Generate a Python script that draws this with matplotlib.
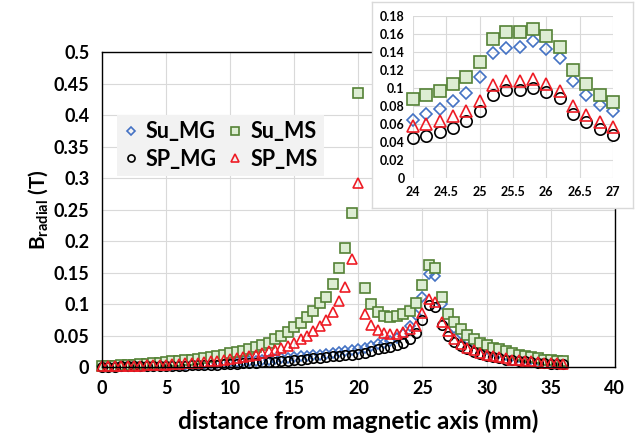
import numpy as np
import matplotlib
matplotlib.use("Agg")
import matplotlib.pyplot as plt
from matplotlib.ticker import FuncFormatter

plt.rcParams['font.family'] = ['Lato', 'DejaVu Sans']
plt.rcParams['font.weight'] = 'bold'
plt.rcParams['mathtext.fontset'] = 'custom'
plt.rcParams['mathtext.rm'] = 'Lato:bold'
plt.rcParams['mathtext.bf'] = 'Lato:bold'
plt.rcParams['mathtext.it'] = 'Lato:bold'

""" data """
# main plot: 0 .. 36 mm, 0.5 mm step
x_main = np.arange(0, 36.01, 0.5)

su_mg = [0.001, 0.001, 0.001, 0.0015, 0.0015, 0.002, 0.002, 0.0025, 0.0025, 0.003,
         0.003, 0.0035, 0.004, 0.004, 0.0045, 0.005, 0.0055, 0.006, 0.0065, 0.007,
         0.0075, 0.008, 0.009, 0.0095, 0.010, 0.011, 0.012, 0.013, 0.014, 0.015,
         0.016, 0.017, 0.018, 0.019, 0.020, 0.021, 0.022, 0.024, 0.025, 0.027,
         0.029, 0.031, 0.033, 0.036, 0.039, 0.042, 0.046, 0.053, 0.065, 0.082,
         0.112, 0.147, 0.144, 0.100, 0.074, 0.062, 0.052, 0.044, 0.038, 0.033,
         0.029, 0.026, 0.023, 0.020, 0.018, 0.016, 0.014, 0.013, 0.012, 0.011,
         0.010, 0.009, 0.008]

su_ms = [0.0015, 0.002, 0.0025, 0.003, 0.0035, 0.004, 0.005, 0.0055, 0.006, 0.007,
         0.008, 0.009, 0.010, 0.011, 0.012, 0.013, 0.015, 0.016, 0.018, 0.020,
         0.022, 0.024, 0.026, 0.029, 0.032, 0.035, 0.039, 0.044, 0.049, 0.055,
         0.063, 0.070, 0.079, 0.089, 0.101, 0.112, 0.132, 0.157, 0.189, 0.244,
         0.435, 0.126, 0.100, 0.088, 0.081, 0.079, 0.081, 0.084, 0.089, 0.101,
         0.130, 0.162, 0.158, 0.112, 0.085, 0.072, 0.060, 0.051, 0.044, 0.039,
         0.035, 0.031, 0.028, 0.025, 0.022, 0.020, 0.018, 0.016, 0.014, 0.012,
         0.011, 0.010, 0.009]

sp_mg = [0.0005, 0.0005, 0.0005, 0.001, 0.001, 0.001, 0.001, 0.0015, 0.0015, 0.0015,
         0.002, 0.002, 0.0025, 0.0025, 0.003, 0.003, 0.0035, 0.004, 0.004, 0.0045,
         0.005, 0.0055, 0.006, 0.0065, 0.007, 0.0075, 0.008, 0.0085, 0.009, 0.010,
         0.011, 0.012, 0.013, 0.014, 0.015, 0.016, 0.017, 0.018, 0.019, 0.020,
         0.021, 0.023, 0.025, 0.028, 0.030, 0.032, 0.035, 0.039, 0.044, 0.054,
         0.074, 0.098, 0.096, 0.067, 0.049, 0.040, 0.033, 0.028, 0.024, 0.021,
         0.018, 0.016, 0.014, 0.012, 0.011, 0.010, 0.009, 0.008, 0.007, 0.006,
         0.0055, 0.005, 0.0045]

sp_ms = [0.001, 0.001, 0.0015, 0.0015, 0.002, 0.002, 0.0025, 0.003, 0.003, 0.0035,
         0.004, 0.0045, 0.005, 0.006, 0.0065, 0.007, 0.008, 0.009, 0.010, 0.011,
         0.013, 0.014, 0.016, 0.018, 0.020, 0.022, 0.025, 0.027, 0.030, 0.034,
         0.039, 0.044, 0.050, 0.057, 0.065, 0.074, 0.087, 0.105, 0.127, 0.172,
         0.292, 0.085, 0.067, 0.059, 0.054, 0.052, 0.053, 0.056, 0.061, 0.066,
         0.086, 0.108, 0.104, 0.072, 0.057, 0.045, 0.037, 0.031, 0.027, 0.023,
         0.020, 0.018, 0.016, 0.014, 0.012, 0.011, 0.010, 0.009, 0.008, 0.007,
         0.006, 0.006, 0.005]

# inset: 24 .. 27 mm, 0.2 mm step
x_in = np.arange(24, 27.01, 0.2)
su_mg_in = [0.065, 0.071, 0.077, 0.086, 0.095, 0.112, 0.139, 0.145, 0.146, 0.152,
            0.143, 0.133, 0.108, 0.092, 0.081, 0.074]
su_ms_in = [0.088, 0.092, 0.097, 0.104, 0.112, 0.129, 0.155, 0.162, 0.162, 0.166,
            0.158, 0.146, 0.120, 0.104, 0.092, 0.084]
sp_mg_in = [0.044, 0.047, 0.051, 0.056, 0.063, 0.074, 0.092, 0.098, 0.098, 0.100,
            0.096, 0.089, 0.071, 0.062, 0.054, 0.048]
sp_ms_in = [0.058, 0.060, 0.063, 0.069, 0.075, 0.086, 0.103, 0.108, 0.108, 0.110,
            0.105, 0.097, 0.080, 0.070, 0.062, 0.057]

labels = ['Su_MG', 'Su_MS', 'SP_MG', 'SP_MS']

""" styles """
blue = '#4472C4'
green = '#548235'
green_fill = '#DDEDD3'
red = '#EE1C25'

styles = {
    'Su_MG': dict(marker='D', mec=blue, mfc='none', ms=5.2, mew=1.2),
    'Su_MS': dict(marker='s', mec=green, mfc=green_fill, ms=6.8, mew=1.2),
    'SP_MG': dict(marker='o', mec='black', mfc='none', ms=6.8, mew=1.2),
    'SP_MS': dict(marker='^', mec=red, mfc='none', ms=6.8, mew=1.2),
}

grid_col = '#D9D9D9'

fig = plt.figure(figsize=(6.41, 4.45), dpi=100)

# main axes
ax = fig.add_axes([0.159, 0.175, 0.800, 0.708])
series = [su_mg, su_ms, sp_mg, sp_ms]
handles = {}
for name, ys in zip(labels, series):
    h, = ax.plot(x_main, ys, linestyle='none', clip_on=False, label=name, **styles[name])
    handles[name] = h

ax.set_xlim(0, 40)
ax.set_ylim(0, 0.5)
ax.set_xticks(np.arange(0, 41, 5))
ax.set_yticks(np.arange(0, 0.501, 0.05))
ax.yaxis.set_major_formatter(FuncFormatter(lambda v, p: '%g' % round(v, 2)))
ax.grid(True, color=grid_col, linewidth=0.8)
ax.set_axisbelow(True)
ax.tick_params(length=0, labelsize=13, pad=9)
for s in ax.spines.values():
    s.set_color('black')
    s.set_linewidth(1.0)
ax.set_xlabel('distance from magnetic axis (mm)', fontsize=17.5, fontweight='bold', labelpad=9)
ax.set_ylabel(r'B$_{\mathrm{radial}}$ (T)', fontsize=15, fontweight='bold', labelpad=3)

leg = ax.legend([handles['Su_MG'], handles['SP_MG'], handles['Su_MS'], handles['SP_MS']],
                ['Su_MG', 'SP_MG', 'Su_MS', 'SP_MS'],
                ncol=2, loc='upper left', bbox_to_anchor=(0.008, 0.835),
                prop={'size': 15.5, 'weight': 'bold'}, markerscale=0.75,
                frameon=True, fancybox=False, handlelength=0.7, handletextpad=0.35,
                columnspacing=0.5, labelspacing=0.3, borderpad=0.3)
leg.get_frame().set_facecolor('#F2F2F2')
leg.get_frame().set_edgecolor('none')
leg.get_frame().set_alpha(1)

# inset box
box = fig.add_axes([372 / 641, 1 - 208 / 445, 261 / 641, 206 / 445])
box.set_xticks([])
box.set_yticks([])
box.set_facecolor('white')
for s in box.spines.values():
    s.set_color(grid_col)
    s.set_linewidth(1.0)

axi = fig.add_axes([413 / 641, 1 - 178 / 445, 200 / 641, 162 / 445])
for name, ys in zip(labels, [su_mg_in, su_ms_in, sp_mg_in, sp_ms_in]):
    st = dict(styles[name])
    st['ms'] = st['ms'] * 1.2
    axi.plot(x_in, ys, linestyle='none', clip_on=False, **st)
axi.set_xlim(24, 27)
axi.set_ylim(0, 0.18)
axi.set_xticks(np.arange(24, 27.01, 0.5))
axi.set_yticks(np.arange(0, 0.181, 0.02))
axi.xaxis.set_major_formatter(FuncFormatter(lambda v, p: '%g' % round(v, 1)))
axi.yaxis.set_major_formatter(FuncFormatter(lambda v, p: '%g' % round(v, 2)))
axi.grid(True, color=grid_col, linewidth=0.8)
axi.set_axisbelow(True)
axi.tick_params(length=0, labelsize=9, pad=6)
for s in axi.spines.values():
    s.set_visible(False)
axi.set_facecolor('none')

fig.savefig('out.png', dpi=100)
